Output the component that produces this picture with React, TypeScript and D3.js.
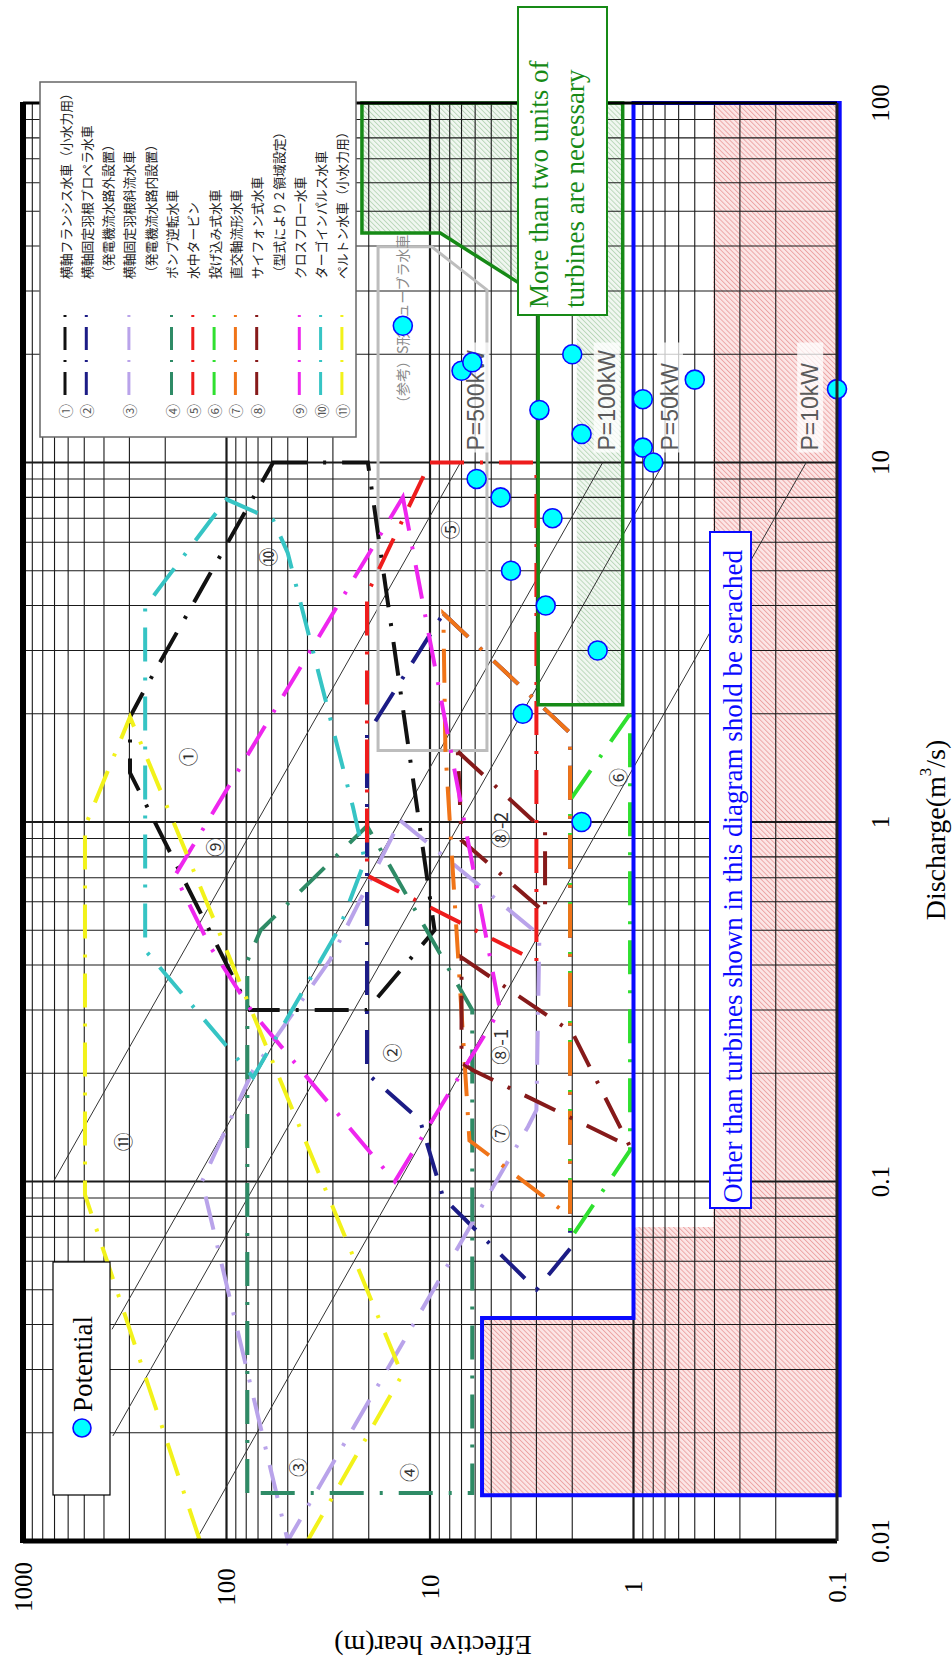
import React from "react";
import * as d3 from "d3";

type Pt = [number, number]; // [discharge m3/s, head m]

const SERIF = "'Liberation Serif', 'Times New Roman', serif";
const SANS = "'Liberation Sans', Arial, sans-serif";
const CJK = "'Noto Sans CJK JP', 'Noto Sans CJK SC', sans-serif";

// axis ticks
const headTicks = [1000, 100, 10, 1, 0.1];
const headTickLabels = ["1000", "100", "10", "1", "0.1"];
const flowTicks = [0.01, 0.1, 1, 10, 100];
const flowTickLabels = ["0.01", "0.1", "1", "10", "100"];

// candidate sites
const potentialQ = [24, 18, 19, 14, 20, 12, 15, 11, 10, 9, 17, 16, 8, 7, 5, 4, 3, 2, 1];
const potentialH = [13.6, 7.0, 6.2, 2.9, 2.0, 1.8, 0.9, 0.9, 0.8, 5.9, 0.5, 0.1, 4.5, 2.5, 4.0, 2.7, 1.5, 3.5, 1.8];

// output lines  P = 9.8 * Q * H * eta
const powerKW = [10, 50, 100, 500];
const powerLabels = ["P=10kW", "P=50kW", "P=100kW", "P=500kW"];
const powerQmin = [0.01, 0.0196, 0.0388, 0.1];
const powerQmax = 10;
const eta = 0.72;

// application ranges of turbines
const francisRange: Pt[] = [[10, 59], [10, 20.2], [0.5, 9.5], [0.3, 20.4], [0.3, 77], [1.37, 298], [1.96, 298], [2.4, 246]];
const propellerRange: Pt[] = [[3.8, 8.6], [1.77, 2.05], [0.065, 2.05], [0.05, 3], [0.09, 8.6], [0.148, 11.2], [0.2, 20.4], [1.75, 20.4]];
const diagonalRange: Pt[] = [[1.01, 14], [0.485, 2.9], [0.158, 3], [0.142, 3.3], [0.01, 50], [0.1, 132], [0.204, 74], [0.413, 31]];
const pumpRange: Pt[] = [[0.0136, 79], [0.41, 79], [0.5, 68], [0.975, 20.4], [0.3, 6.2], [0.0136, 6.2]];
const submersibleRange: Pt[] = [[10, 10], [10, 3], [0.41, 3], [0.71, 20.4], [4.3, 20.4]];
const dropInRange: Pt[] = [[2, 1.04], [1.15, 2.05], [0.069, 2.05], [0.122, 1.04]];
const orthogonalRange: Pt[] = [[3.8, 8.6], [1.77, 2.05], [0.08, 2.05], [0.13, 6.4], [1.58, 8.4]];
const siphonRange1: Pt[] = [[0.42, 7], [0.26, 2], [0.125, 1.04], [0.204, 6.15], [0.214, 7]];
const siphonRange2: Pt[] = [[1.57, 7.3], [0.94, 2.72], [0.56, 2.72], [0.89, 7]];
const crossFlowRange: Pt[] = [[8, 13.6], [0.3, 4.53], [0.1, 14.9], [0.294, 74], [0.449, 120], [0.71, 179]];
const turgoRange: Pt[] = [[7.9, 100], [6.92, 59], [5.6, 50], [1.1, 23.9], [0.78, 20.9], [0.51, 27.7], [0.195, 74], [0.44, 251], [3.96, 251], [4.5, 212]];
const peltonRange: Pt[] = [[0.01, 135], [0.092, 496], [0.97, 496], [1.96, 298], [0.029, 13.7], [0.01, 40]];

const turbineNums = ["①", "②", "③", "④", "⑤", "⑥", "⑦", "⑧", "⑨", "⑩", "⑪"];
const turbineColors = ["#111111", "#1c1c86", "#b9a3ea", "#2e8b66", "#ee1c1c", "#2fe02f", "#f07418", "#861a1a", "#ee26ee", "#36c4c4", "#f2f21a"];

// legend text columns and the column each turbine starts in
const legendText = [
  "横軸フランシス水車（小水力用）",
  "横軸固定羽根プロペラ水車",
  "（発電機流水路外設置）",
  "横軸固定羽根斜流水車",
  "（発電機流水路内設置）",
  "ポンプ逆転水車",
  "水中タービン",
  "投げ込み式水車",
  "直交軸流形水車",
  "サイフォン式水車",
  "（型式により２領域設定）",
  "クロスフロー水車",
  "ターゴインパルス水車",
  "ペルトン水車（小水力用）",
];
const legendCol = [0, 1, 3, 5, 6, 7, 8, 9, 11, 12, 13];

// region labels inside the chart
const regionLabels = ["①", "②", "③", "④", "⑤", "⑥", "⑦", "⑧-1", "⑧-2", "⑨", "⑩", "⑪"];
const regionLabelQ = [1.52, 0.228, 0.016, 0.0155, 6.5, 1.33, 0.136, 0.237, 0.95, 0.85, 5.46, 0.129];
const regionLabelH = [155, 15.4, 45, 12.8, 8.0, 1.2, 4.53, 4.53, 4.53, 114, 63, 326];

// annotation areas
const searchArea: Pt[] = [[100, 1.0], [100, 0.097], [0.0134, 0.097], [0.0134, 5.55], [0.0417, 5.55], [0.0417, 1.0]];
const outsideArea: Pt[] = [[100, 0.406], [100, 0.1], [0.0134, 0.1], [0.0134, 5.55], [0.0417, 5.55], [0.0417, 1.0], [0.0747, 1.0], [0.0747, 0.406]];
const multiUnitArea: Pt[] = [[100, 21.6], [100, 1.13], [2.12, 1.13], [2.12, 2.94], [29.2, 2.94], [43.5, 8.9], [43.5, 21.6]];
const multiUnitHatch: Pt[] = [[100, 21.6], [100, 1.13], [2.12, 1.13], [2.12, 1.9], [29.2, 1.9], [29.2, 2.94], [43.5, 8.9], [43.5, 21.6]];
const tubularArea: Pt[] = [[39.8, 18], [39.8, 9.8], [30.2, 5.25], [1.58, 5.25], [1.58, 18]];

function RText(props: any) {
  const { x, y, rotate = -90, size = 25, anchor = "middle", baseline = "central", fill = "#000", family = SERIF, children } = props;
  return (
    <text
      transform={`translate(${x},${y}) rotate(${rotate})`}
      textAnchor={anchor}
      dominantBaseline={baseline}
      fontSize={size}
      fill={fill}
      fontFamily={family}
    >
      {children}
    </text>
  );
}

export default function App() {
  const x = d3.scaleLog().domain([1000, 0.1]).range([23, 837]);
  const y = d3.scaleLog().domain([100, 0.01]).range([103, 1541]);
  const line = d3.line<Pt>().x((d) => x(d[1])).y((d) => y(d[0]));
  const poly = (p: Pt[]) => line(p) + "Z";
  const isMajor = (v: number) => Math.abs(Math.log10(v) - Math.round(Math.log10(v))) < 1e-6;
  const [xl, xr] = x.range();
  const [yt, yb] = y.range();

  const turbines = [
    { d: poly(francisRange), c: turbineColors[0] },
    { d: poly(propellerRange), c: turbineColors[1] },
    { d: poly(diagonalRange), c: turbineColors[2] },
    { d: poly(pumpRange), c: turbineColors[3] },
    { d: poly(submersibleRange), c: turbineColors[4] },
    { d: poly(dropInRange), c: turbineColors[5] },
    { d: poly(orthogonalRange), c: turbineColors[6] },
    { d: poly(siphonRange1), c: turbineColors[7] },
    { d: poly(siphonRange2), c: turbineColors[7] },
    { d: poly(crossFlowRange), c: turbineColors[8] },
    { d: poly(turgoRange), c: turbineColors[9] },
    { d: line(peltonRange) as string, c: turbineColors[10] },
  ];

  const colX = (i: number) => 65 + i * 21.3;
  const labelShift = [0, 2, 0, 12];

  return (
    <svg
      width={952}
      height={1662}
      style={{ position: "absolute", left: 0, top: 0, background: "#fff", display: "block" }}
    >
      <defs>
        <pattern id="pinkHatch" width="3.5" height="3.5" patternUnits="userSpaceOnUse" patternTransform="rotate(-45)">
          <rect width="3.5" height="3.5" fill="#fce6e6" />
          <line x1="0.5" y1="0" x2="0.5" y2="3.5" stroke="#eba0a0" strokeWidth="0.9" />
        </pattern>
        <pattern id="greenHatch" width="3.5" height="3.5" patternUnits="userSpaceOnUse" patternTransform="rotate(-45)">
          <rect width="3.5" height="3.5" fill="#f1f7f1" />
          <line x1="0.5" y1="0" x2="0.5" y2="3.5" stroke="#b6d6b6" strokeWidth="0.9" />
        </pattern>
      </defs>

      {/* shaded areas */}
      <path d={poly(outsideArea)} fill="url(#pinkHatch)" />
      <path d={poly(multiUnitHatch)} fill="url(#greenHatch)" />

      {/* grid */}
      <g>
        {x.ticks().map((t, i) => (
          <line key={"gx" + i} x1={x(t)} x2={x(t)} y1={yt} y2={yb} stroke="#1a1a1a" strokeWidth={isMajor(t) ? 2.2 : 1.1} />
        ))}
        {y.ticks().map((t, i) => (
          <line key={"gy" + i} x1={xl} x2={xr} y1={y(t)} y2={y(t)} stroke="#1a1a1a" strokeWidth={isMajor(t) ? 2.2 : 1.1} />
        ))}
      </g>

      {/* white patch behind region label 1 */}
      <rect x={x(regionLabelH[0]) - 21} y={y(regionLabelQ[0]) - 40} width={57} height={76} fill="#fff" />

      {/* output lines */}
      {powerKW.map((p, i) => {
        const q0 = powerQmin[i];
        const pts: Pt[] = [[q0, p / (9.8 * q0 * eta)], [powerQmax, p / (9.8 * powerQmax * eta)]];
        return <path key={"pl" + i} d={line(pts) as string} stroke="#333" strokeWidth={1} fill="none" />;
      })}

      {/* reference area (S-type tubular) */}
      <path d={poly(tubularArea)} fill="none" stroke="#bdbdbd" strokeWidth={3} />

      {/* turbine application ranges */}
      {turbines.map((t, i) => (
        <path key={"tb" + i} d={t.d} fill="none" stroke={t.c} strokeWidth={4} strokeDasharray="34 16 3 16" />
      ))}

      {/* search area and multi-unit area outlines */}
      <path d={poly(searchArea)} fill="none" stroke="#0a0aff" strokeWidth={4} />
      <path d={poly(multiUnitArea)} fill="none" stroke="#168a16" strokeWidth={3.5} />

      {/* output labels */}
      {powerKW.map((p, i) => {
        const cx = x(p / (9.8 * powerQmax * eta)) + 4 + labelShift[i];
        const by = y(powerQmax) - 12;
        return (
          <g key={"plb" + i}>
            <rect x={cx - 13} y={by - 108} width={26} height={110} fill="#fff" opacity={0.75} />
            <RText x={cx} y={by} anchor="start" size={23} fill="#5a5a5a" family={SANS}>
              {powerLabels[i]}
            </RText>
          </g>
        );
      })}

      {/* region labels */}
      {regionLabels.map((l, i) => (
        <RText key={"rl" + i} x={x(regionLabelH[i])} y={y(regionLabelQ[i])} size={19} fill="#333" family={CJK}>
          {l}
        </RText>
      ))}
      <RText x={402} y={410} anchor="start" size={14} fill="#8a8a8a" family={CJK}>
        （参考）S形チューブラ水車
      </RText>

      {/* potential sites */}
      {potentialQ.map((q, i) => (
        <circle key={"pt" + i} cx={x(potentialH[i])} cy={y(q)} r={9.5} fill="#00ffff" stroke="#0a0aff" strokeWidth={1.6} />
      ))}

      {/* frame */}
      <line x1={xl} x2={xl} y1={yt - 1} y2={yb + 2} stroke="#000" strokeWidth={6} />
      <line x1={xl} x2={xr} y1={yb} y2={yb} stroke="#000" strokeWidth={5} />
      <line x1={xl} x2={xr} y1={yt} y2={yt} stroke="#000" strokeWidth={3} />
      <line x1={xr} x2={xr} y1={yt} y2={yb} stroke="#222" strokeWidth={3} />

      {/* legend */}
      <rect x={40} y={82} width={316} height={355} fill="#fff" stroke="#666" strokeWidth={1.5} />
      {legendText.map((t, i) => (
        <RText key={"lt" + i} x={colX(i)} y={279} anchor="start" size={12.8} fill="#222" family={CJK}>
          {t}
        </RText>
      ))}
      {turbineNums.map((n, i) => (
        <g key={"lg" + i}>
          <line
            x1={colX(legendCol[i])}
            x2={colX(legendCol[i])}
            y1={395}
            y2={311}
            stroke={turbineColors[i]}
            strokeWidth={3}
            strokeDasharray="23 10 2 10"
          />
          <RText x={colX(legendCol[i])} y={411} size={14} fill="#555" family={CJK}>
            {n}
          </RText>
        </g>
      ))}

      {/* multi-unit note */}
      <rect x={518} y={7} width={89} height={308} fill="#fff" stroke="#168a16" strokeWidth={2} />
      <RText x={548} y={308} anchor="start" baseline="alphabetic" size={27} fill="#168a16">
        More than two units of
      </RText>
      <RText x={584} y={308} anchor="start" baseline="alphabetic" size={27} fill="#168a16">
        turbines are necessary
      </RText>

      {/* search note */}
      <rect x={710} y={532} width={41} height={676} fill="#fff" stroke="#0a0aff" strokeWidth={2} />
      <RText x={742} y={1203} anchor="start" baseline="alphabetic" size={27} fill="#0a0aff">
        Other than turbines shown in this diagram shold be serached
      </RText>

      {/* potential legend */}
      <rect x={53} y={1262} width={57} height={233} fill="#fff" stroke="#000" strokeWidth={1.2} />
      <circle cx={82} cy={1428} r={9} fill="#00ffff" stroke="#0a0aff" strokeWidth={1.6} />
      <RText x={83} y={1412} anchor="start" size={27}>
        Potential
      </RText>

      {/* tick labels */}
      {headTicks.map((h, i) => (
        <RText key={"hx" + i} x={x(h)} y={1587} size={25}>
          {headTickLabels[i]}
        </RText>
      ))}
      {flowTicks.map((q, i) => (
        <RText key={"qy" + i} x={880} y={y(q)} size={25}>
          {flowTickLabels[i]}
        </RText>
      ))}

      {/* axis titles */}
      <RText x={433} y={1645} rotate={180} size={28}>
        Effective hear(m)
      </RText>
      <RText x={935} y={830} size={28}>
        Discharge(m<tspan dy={-10} fontSize={17}>3</tspan>
        <tspan dy={10}>/s)</tspan>
      </RText>
    </svg>
  );
}
